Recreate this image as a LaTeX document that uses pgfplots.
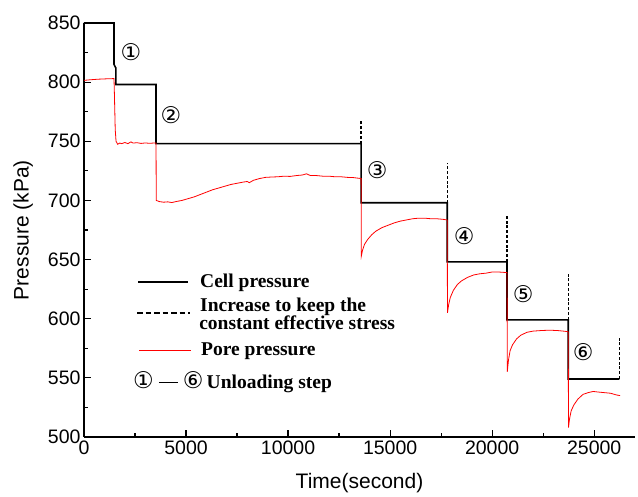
\documentclass[border=0pt]{standalone}
\usepackage{pgfplots}
\pgfplotsset{compat=1.18}
\usepackage{fontspec}
\setmainfont{Liberation Sans}
\newfontfamily\tnr{Liberation Serif}
\newfontfamily\circfont{DejaVu Sans}
\begin{document}
\begin{tikzpicture}
\begin{axis}[
 scale only axis, width=551pt, height=414pt,
 xmin=0, xmax=27000, ymin=500, ymax=850,
 axis x line=bottom, axis y line=left,
 axis line style={-, line width=1.5pt},
 tick align=inside, major tick length=7pt, minor tick length=4pt,
 tick style={line width=1.2pt, black},
 xtick={0,5000,10000,15000,20000,25000}, ytick={500,550,...,850},
 minor x tick num=1, minor y tick num=1,
 scaled x ticks=false,
 xticklabel style={/pgf/number format/1000 sep={}},
 /pgf/number format/assume math mode=true,
 ticklabel style={font=\fontsize{19.5}{19.5}\selectfont},
 xlabel={Time(second)}, ylabel={Pressure (kPa)},
 label style={font=\fontsize{21}{21}\selectfont},
 xlabel style={yshift=-12pt},
 ylabel style={yshift=8pt},
 clip=false,
]
% cell pressure
\addplot[black, line width=1.6pt] coordinates {
(0,850)(1470,850)(1470,815)(1560,812)(1560,798)(3530,798)(3530,748)
(13580,748)(13580,698)(17800,698)(17800,648)(20730,648)(20730,599)
(23730,599)(23730,549)(26230,549)};
% increases
\addplot[black, line width=1.3pt, dash pattern=on 3pt off 1.8pt] coordinates {(13580,748)(13580,767)};
\addplot[black, line width=1.3pt, dash pattern=on 3pt off 1.8pt] coordinates {(17800,698)(17800,731.5)};
\addplot[black, line width=1.3pt, dash pattern=on 3pt off 1.8pt] coordinates {(20730,648)(20730,688)};
\addplot[black, line width=1.3pt, dash pattern=on 3pt off 1.8pt] coordinates {(23730,599)(23730,639)};
\addplot[black, line width=1.3pt, dash pattern=on 3pt off 1.8pt] coordinates {(26230,549)(26230,584.5)};
% pore pressure
\addplot[red, line width=0.8pt] coordinates {
(0,801.5)(300,802)(700,802.5)(1100,802.8)(1470,803)
(1490,790)(1530,760)(1570,750)(1650,747.5)(1750,748.5)(1850,748)(2000,749)(2150,748)(2300,749.5)(2400,748.5)(2600,748.8)(2800,748.2)(3000,748.6)(3200,748.3)(3400,748.5)(3530,748.5)
(3540,700)(3700,699)(3900,698.5)(4100,698.8)(4300,698.2)(4500,699)(4800,700)(5100,701.5)(5400,703)(5700,705)(6000,707)(6300,709)(6600,710.5)(6900,712)(7200,713.5)(7500,714.5)(7800,715.5)(8000,716)(8100,715)(8300,717)(8600,718.5)(8900,719.5)(9200,719.8)(9500,720)(9800,720.5)(10100,720.3)(10400,721)(10700,721.5)(10900,722.5)(11100,721)(11400,721)(11700,720.5)(12000,720.5)(12300,720)(12600,720)(12900,719.5)(13200,719.3)(13580,718.5)
(13590,653)(13650,658)(13750,663)(13900,667)(14100,671)(14300,674)(14600,677)(14900,679)(15200,681)(15500,682.5)(15800,683.5)(16100,684.5)(16400,685)(16700,685)(17000,684.5)(17300,684.5)(17600,684)(17800,683.5)
(17810,605)(17870,612)(17950,618)(18100,624)(18300,629)(18500,632)(18800,635)(19100,637)(19400,638)(19700,638.5)(20000,639.5)(20300,639.5)(20730,639)
(20740,555)(20800,565)(20880,573)(21000,578)(21200,583)(21400,586)(21700,588.5)(22000,589.5)(22400,590)(22800,590.3)(23200,590)(23500,589.5)(23730,589)
(23740,508)(23790,515)(23870,522)(24000,527)(24200,532)(24450,536)(24700,537.5)(24950,538.5)(25200,538)(25500,537.5)(25800,537)(26100,535.5)(26270,535)};
% step labels
\begin{scope}[every node/.style={font=\circfont\fontsize{23}{23}\selectfont, inner sep=0pt}]
\node at (axis cs:2300,825.5) {①};
\node at (axis cs:4265,772.2) {②};
\node at (axis cs:14363,725.7) {③};
\node at (axis cs:18627,669.9) {④};
\node at (axis cs:21520,620.9) {⑤};
\node at (axis cs:24461,571.9) {⑥};
\end{scope}
% legend
\draw[black, line width=1.6pt] (axis cs:2647,631) -- (axis cs:5098,631);
\draw[black, line width=1.3pt, dash pattern=on 5.5pt off 3pt] (axis cs:2598,604.8) -- (axis cs:5196,604.8);
\draw[red, line width=1pt] (axis cs:2696,573.5) -- (axis cs:5245,573.5);
\begin{scope}[every node/.style={font=\tnr\bfseries\fontsize{19.5}{19.5}\selectfont, inner sep=0pt, anchor=base west}]
\node at (axis cs:5686,626.8) {Cell pressure};
\node at (axis cs:5686,605.7) {Increase to keep the};
\node at (axis cs:5640,590.5) {constant effective stress};
\node at (axis cs:5735,568.5) {Pore pressure};
\node at (axis cs:2402,541.4) {{\circfont\mdseries\fontsize{23}{23}\selectfont ①}\hspace{5pt}\rule[5.5pt]{19pt}{0.9pt}\hspace{5pt}{\circfont\mdseries\fontsize{23}{23}\selectfont ⑥}\,Unloading step};
\end{scope}
\coordinate (O) at (axis cs:0,500);
\end{axis}
\path (O) ++(-84pt,437pt) rectangle ++(638pt,-496pt);
\end{tikzpicture}
\end{document}
